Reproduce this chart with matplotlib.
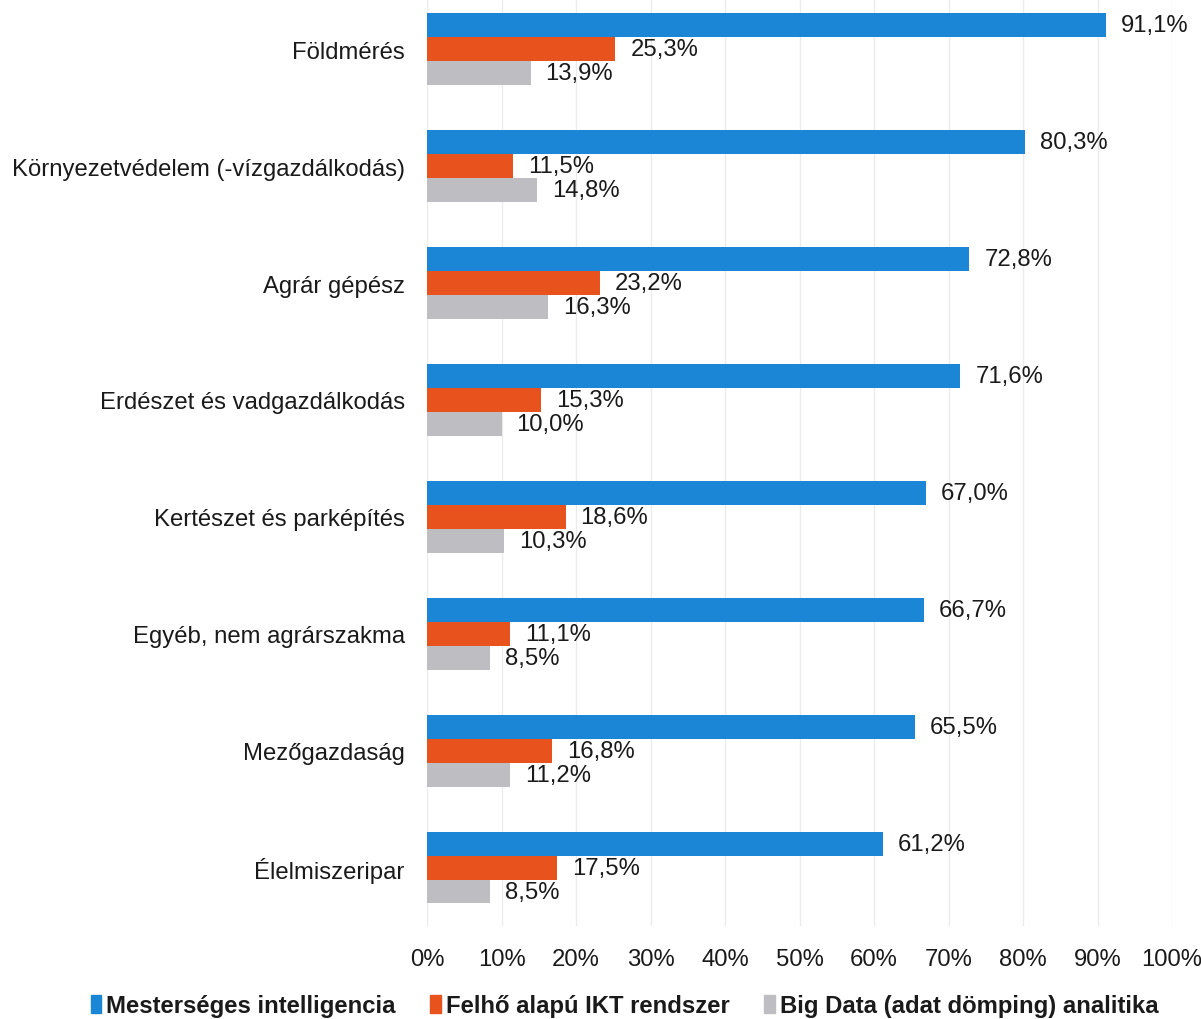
import matplotlib
matplotlib.use("Agg")
import matplotlib.pyplot as plt
import numpy as np
from matplotlib.patches import Patch

categories = ["Földmérés", "Környezetvédelem (-vízgazdálkodás)", "Agrár gépész",
              "Erdészet és vadgazdálkodás", "Kertészet és parképítés",
              "Egyéb, nem agrárszakma", "Mezőgazdaság", "Élelmiszeripar"]
ai = [91.1, 80.3, 72.8, 71.6, 67.0, 66.7, 65.5, 61.2]
cloud = [25.3, 11.5, 23.2, 15.3, 18.6, 11.1, 16.8, 17.5]
bigdata = [13.9, 14.8, 16.3, 10.0, 10.3, 8.5, 11.2, 8.5]
series_names = ["Mesterséges intelligencia", "Felhő alapú IKT rendszer",
                "Big Data (adat dömping) analitika"]
xticks = [0, 10, 20, 30, 40, 50, 60, 70, 80, 90, 100]

colors = ["#1C86D6", "#E8521C", "#BEBEC2"]

plt.rcParams['font.family'] = ['Liberation Sans', 'DejaVu Sans']
fig = plt.figure(figsize=(12.01, 10.20), dpi=100)
ax = fig.add_axes([427/1201, 1 - 927/1020, (1172-427)/1201, 927/1020])

y = np.arange(len(categories))
h = 0.205
fs = 17.2
for k, (vals, c) in enumerate(zip([ai, cloud, bigdata], colors)):
    pos = y + (k - 1) * h
    ax.barh(pos, vals, height=h, color=c, zorder=3)
    for p, v in zip(pos, vals):
        ax.annotate(f"{v:.1f}%".replace(".", ","), (v, p), xytext=(15, 0),
                    textcoords="offset pixels",
                    va="center", ha="left", fontsize=fs, color="#1a1a1a")

ax.set_xlim(0, 100)
ax.set_ylim(len(categories) - 0.5, -0.43)
ax.set_xticks(xticks)
ax.set_xticklabels([f"{t}%" for t in xticks], fontsize=fs, color="#1a1a1a")
ax.set_yticks(y)
ax.set_yticklabels(categories, fontsize=fs, color="#1a1a1a")
ax.tick_params(axis="both", length=0)
ax.tick_params(axis="x", pad=16)
ax.tick_params(axis="y", pad=16)
ax.grid(axis="x", color="#EBEBEB", linewidth=1, zorder=0)
for s in ax.spines.values():
    s.set_visible(False)

handles = [Patch(color=c) for c in colors]
leg = fig.legend(handles, series_names, loc="center", bbox_to_anchor=(0.52, 1 - 1007/1020),
                 ncol=3, frameon=False, handlelength=0.45, handleheight=0.8,
                 handletextpad=0.2, columnspacing=1.45,
                 prop={"weight": "bold", "size": 17.2})
for t in leg.get_texts():
    t.set_color("#1a1a1a")

fig.savefig("out.png", dpi=100)
